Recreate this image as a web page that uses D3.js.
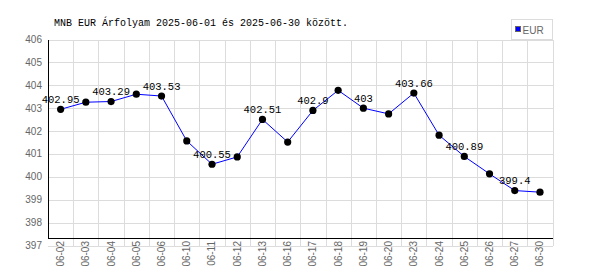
<!DOCTYPE html>
<html>
<head>
<meta charset="utf-8">
<style>
  body { margin: 0; background: #fff; }
  svg { display: block; }
  .mono { font-family: "Liberation Mono", "DejaVu Sans Mono", monospace; }
  .axislabel { font-family: "Liberation Sans", Arial, sans-serif; font-size: 10px; fill: #666; }
</style>
<script src="https://cdn.jsdelivr.net/npm/d3@7"></script>
</head>
<body>
<svg width="600" height="270"></svg>
<script>
// dates on the x axis
var dates = ["06-02", "06-03", "06-04", "06-05", "06-06", "06-10", "06-11", "06-12", "06-13", "06-16",
             "06-17", "06-18", "06-19", "06-20", "06-23", "06-24", "06-25", "06-26", "06-27", "06-30"];
// EUR rate
var eur = [402.95, 403.26, 403.29, 403.61, 403.53, 401.57, 400.55, 400.87, 402.51, 401.52,
           402.9, 403.78, 403, 402.75, 403.66, 401.82, 400.89, 400.13, 399.4, 399.33];
// text shown above every second point
var pointLabels = ["402.95", "", "403.29", "", "403.53", "", "400.55", "", "402.51", "",
                   "402.9", "", "403", "", "403.66", "", "400.89", "", "399.4", ""];
var yTicks = [397, 398, 399, 400, 401, 402, 403, 404, 405, 406];
var title = "MNB EUR Árfolyam 2025-06-01 és 2025-06-30 között.";
var seriesName = "EUR";

var svg = d3.select("svg");
var plotLeft = 48, plotRight = 552.6, plotTop = 39.5, axisY = 238.3, gridBottom = 245.5;

var x = d3.scaleBand().domain(dates).range([plotLeft, plotRight]).paddingInner(0).paddingOuter(0);
var y = d3.scaleLinear().domain([397, 406]).range([gridBottom, plotTop]);

// grid
var grid = svg.append("g").attr("stroke", "#dcdcdc").attr("stroke-width", 1).attr("shape-rendering", "crispEdges");
grid.selectAll(".h").data(yTicks).enter().append("line")
    .attr("x1", plotLeft).attr("x2", plotRight)
    .attr("y1", function(d) { return Math.round(y(d)) + 0.5; })
    .attr("y2", function(d) { return Math.round(y(d)) + 0.5; });
var bounds = dates.map(function(d) { return x(d); }).concat([plotRight]);
grid.selectAll(".v").data(bounds.slice(1)).enter().append("line")
    .attr("x1", function(d) { return Math.round(d) + 0.5; })
    .attr("x2", function(d) { return Math.round(d) + 0.5; })
    .attr("y1", plotTop).attr("y2", gridBottom);

// axes
svg.append("line").attr("x1", plotLeft + 0.5).attr("x2", plotLeft + 0.5).attr("y1", plotTop).attr("y2", axisY + 0.5)
    .attr("stroke", "#000").attr("shape-rendering", "crispEdges");
svg.append("line").attr("x1", plotLeft).attr("x2", plotRight).attr("y1", Math.round(axisY) + 0.5).attr("y2", Math.round(axisY) + 0.5)
    .attr("stroke", "#000").attr("shape-rendering", "crispEdges");

svg.append("g").selectAll("text").data(yTicks).enter().append("text")
    .attr("class", "axislabel")
    .attr("x", 42).attr("y", function(d) { return y(d); })
    .attr("dy", "0.35em").attr("text-anchor", "end")
    .text(function(d) { return d; });

svg.append("g").selectAll("text").data(dates).enter().append("text")
    .attr("class", "axislabel")
    .attr("transform", function(d) { return "translate(" + (x(d) + x.bandwidth() / 2 + 3.5) + "," + 241 + ") rotate(-90)"; })
    .attr("text-anchor", "end")
    .text(function(d) { return d; });

// line + points
var cx = function(i) { return x(dates[i]) + x.bandwidth() / 2; };
var line = d3.line()
    .x(function(d, i) { return cx(i); })
    .y(function(d) { return y(d); });
svg.append("path").datum(eur)
    .attr("fill", "none").attr("stroke", "#0000ff").attr("stroke-width", 1)
    .attr("d", line);
svg.append("g").selectAll("circle").data(eur).enter().append("circle")
    .attr("cx", function(d, i) { return cx(i); })
    .attr("cy", function(d) { return y(d); })
    .attr("r", 3.6).attr("fill", "#000");

svg.append("g").selectAll("text").data(eur).enter().append("text")
    .attr("class", "mono").attr("font-size", "10.5px").attr("fill", "#000")
    .attr("x", function(d, i) { return cx(i); })
    .attr("y", function(d) { return y(d) - 6.5; })
    .attr("text-anchor", "middle")
    .text(function(d, i) { return pointLabels[i]; });

// title
svg.append("text").attr("class", "mono").attr("font-size", "10px").attr("fill", "#000")
    .attr("x", 54).attr("y", 26).text(title);

// legend
svg.append("rect").attr("x", 511.5).attr("y", 19.5).attr("width", 41).attr("height", 20)
    .attr("fill", "#fff").attr("stroke", "#dcdcdc").attr("shape-rendering", "crispEdges");
svg.append("rect").attr("x", 515.5).attr("y", 26.5).attr("width", 5).attr("height", 5)
    .attr("fill", "#0000ff").attr("stroke", "#666").attr("shape-rendering", "crispEdges");
svg.append("text").attr("class", "axislabel").attr("fill", "#555")
    .attr("x", 522.5).attr("y", 33.5).text(seriesName);
</script>
</body>
</html>
